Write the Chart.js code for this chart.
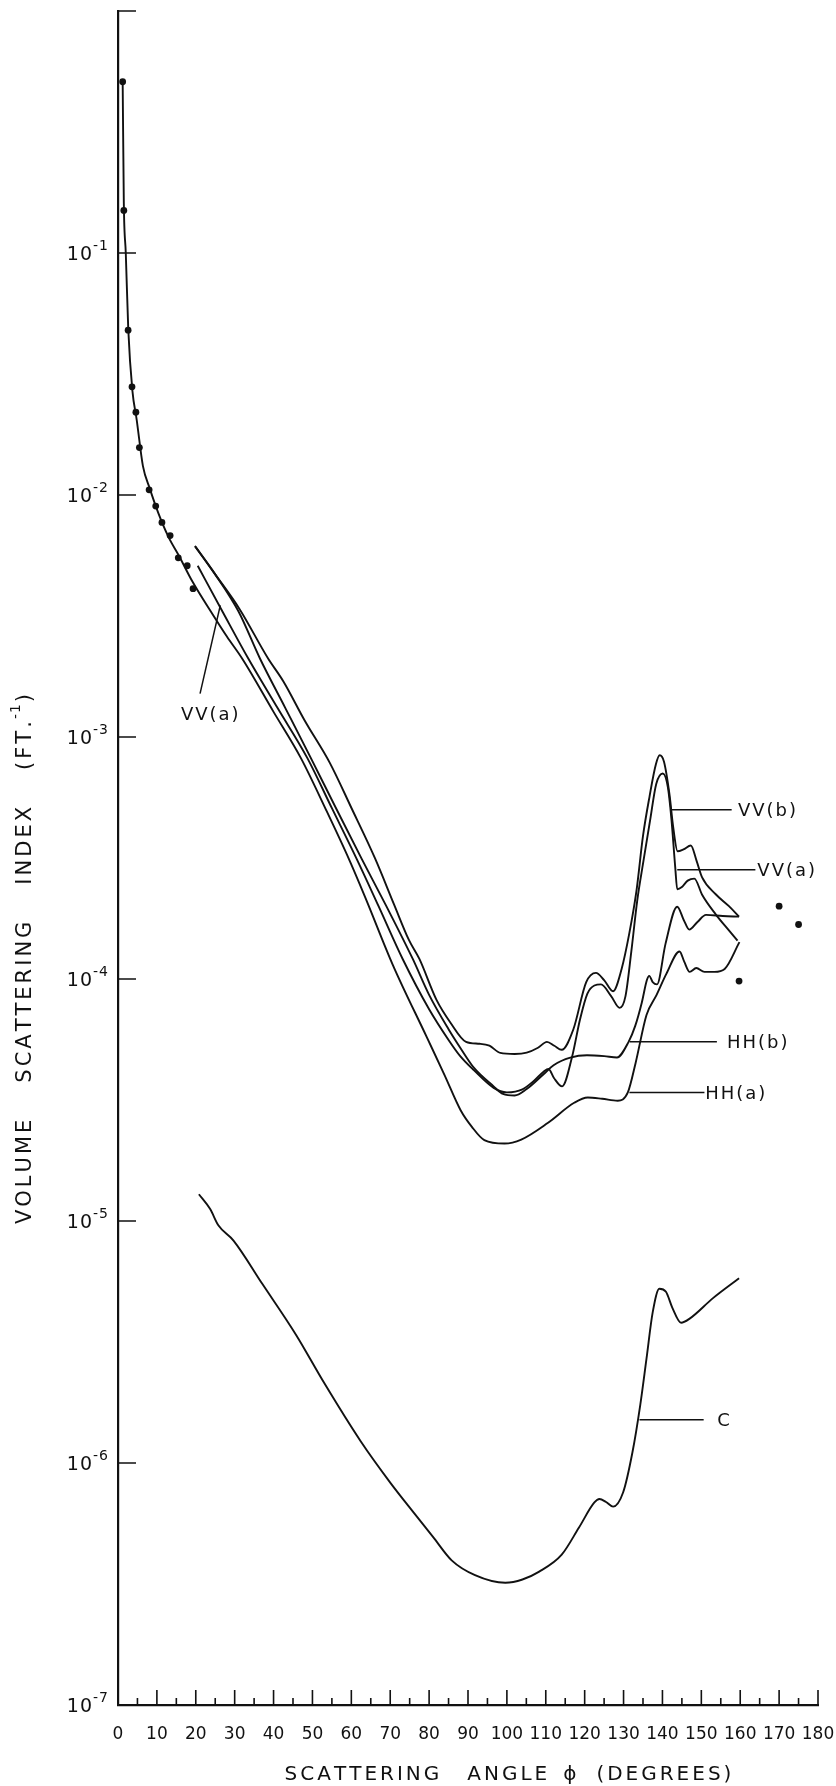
<!DOCTYPE html>
<html>
<head>
<meta charset="utf-8">
<script src="https://cdn.jsdelivr.net/npm/chart.js@4.4.1/dist/chart.umd.min.js"></script>
<style>
  html, body { margin: 0; padding: 0; background: #fff; }
  #wrap { width: 836px; height: 1786px; }
</style>
</head>
<body>
<div id="wrap"><canvas id="chart" width="836" height="1786"></canvas></div>
<script>
// measured points at small angles
const dotAngle = [1.2, 1.5, 2.6, 3.6, 4.6, 5.5, 8.0, 9.7, 11.3, 13.4, 15.5, 17.8, 19.3];
const dotValue = [0.51, 0.15, 0.048, 0.028, 0.022, 0.0157, 0.0105, 0.0090, 0.0077, 0.0068, 0.0055, 0.0051, 0.0041];
// isolated points near back scatter
const farDotAngle = [159.7, 170.0, 175.0];
const farDotValue = [9.8e-5, 2.0e-4, 1.68e-4];

// HH(a), continues the small-angle curve
const hhaAngle = [1.2, 1.5, 2.0, 2.65, 3.7, 4.8, 6.4, 8.2, 10.4, 13.0, 15.7, 19.1, 24.4, 28, 32, 40, 47, 53.5, 59.5, 63.6,
  70.6, 79.4, 84, 88.1, 91, 94.2, 99.4, 103.7, 110.5, 117.3, 120.8, 124.5, 128.5, 131.1, 133.1, 135.9, 138.5, 141, 144.4, 145.6,
  147, 148.7, 150.8, 153.4, 156, 159.8];
const hhaValue = [0.51, 0.16, 0.10, 0.048, 0.027, 0.0205, 0.0132, 0.0106, 0.0084, 0.0067, 0.0056, 0.0044, 0.0032, 0.0026, 0.0021, 0.00127, 0.00082, 0.00050, 0.00031, 0.000217,
  0.000115, 5.75e-5, 4.0e-5, 2.87e-5, 2.45e-5, 2.16e-5, 2.09e-5, 2.17e-5, 2.54e-5, 3.08e-5, 3.24e-5, 3.2e-5, 3.14e-5, 3.4e-5, 4.5e-5, 7.1e-5, 8.6e-5, 1.05e-4, 1.3e-4, 1.18e-4,
  1.07e-4, 1.11e-4, 1.07e-4, 1.07e-4, 1.1e-4, 1.42e-4];

const vvbAngle = [19.8, 25, 31.2, 38.6, 42.5, 48, 54.5, 60, 66.1, 71, 74.8, 77.5, 81.9, 85.5, 89.5, 93, 95.5, 98.3, 102, 105.1,
  108, 110.3, 112.2, 114.1, 117.1, 120.4, 122.9, 125, 127.3, 129.5, 131.5, 133.3, 135.0, 136.7, 138.3, 139.3, 140.4, 141.8, 142.8, 143.9,
  145.4, 147.3, 148.8, 150.2, 153.7, 157.1, 159.7];
const vvbValue = [6.15e-3, 4.7e-3, 3.39e-3, 2.11e-3, 1.70e-3, 1.17e-3, 7.8e-4, 5.1e-4, 3.15e-4, 2.03e-4, 1.45e-4, 1.21e-4, 8.2e-5, 6.6e-5, 5.5e-5, 5.4e-5, 5.3e-5, 4.95e-5, 4.9e-5, 4.96e-5,
  5.2e-5, 5.5e-5, 5.3e-5, 5.1e-5, 6.2e-5, 9.7e-5, 1.06e-4, 9.9e-5, 8.9e-5, 1.1e-4, 1.55e-4, 2.3e-4, 3.9e-4, 5.7e-4, 7.7e-4, 8.4e-4, 7.9e-4, 5.8e-4, 4.2e-4, 3.37e-4,
  3.43e-4, 3.56e-4, 3.07e-4, 2.63e-4, 2.24e-4, 2.0e-4, 1.81e-4];

const vvaAngle = [20.5, 27, 33.5, 41, 48.7, 55, 61.4, 67, 73.2, 80, 85, 88, 91.5, 96.6, 100, 104, 107, 109.5, 110.7, 112.1,
  114.2, 116.8, 118.8, 120.7, 122.5, 124.2, 126.8, 129.0, 130.5, 132, 133.5, 135.1, 136.8, 138.4, 140.1, 141.4, 142.3, 143.3, 143.8, 145.0,
  146.5, 148.2, 150.2, 153.7, 157.2, 159.3];
const vvaValue = [5.1e-3, 3.27e-3, 2.11e-3, 1.32e-3, 8.18e-4, 5.08e-4, 3.13e-4, 2.0e-4, 1.21e-4, 7.5e-5, 5.6e-5, 4.8e-5, 4.2e-5, 3.55e-5, 3.4e-5, 3.5e-5, 3.8e-5, 4.15e-5, 4.25e-5, 3.9e-5,
  3.6e-5, 4.8e-5, 6.8e-5, 8.7e-5, 9.4e-5, 9.5e-5, 8.5e-5, 7.6e-5, 8.5e-5, 1.3e-4, 2.1e-4, 3.06e-4, 4.5e-4, 6.4e-4, 7.07e-4, 6.2e-4, 4.6e-4, 2.88e-4, 2.35e-4, 2.4e-4,
  2.55e-4, 2.6e-4, 2.23e-4, 1.85e-4, 1.58e-4, 1.44e-4];

const hhbAngle = [19.8, 25, 31, 36.5, 43, 49.6, 56, 62.7, 69, 75.8, 80, 85, 88, 91.5, 96.6, 99, 102, 105, 109.5, 112,
  116.3, 120.6, 125, 128.3, 131.3, 133.0, 134.7, 136.0, 136.6, 137.5, 138.6, 140.8, 143.8, 145.5, 146.9, 149, 151.2, 155.5, 159.7];
const hhbValue = [6.15e-3, 4.7e-3, 3.3e-3, 2.11e-3, 1.32e-3, 8.18e-4, 5.1e-4, 3.13e-4, 2.0e-4, 1.21e-4, 8.6e-5, 6.2e-5, 5.2e-5, 4.3e-5, 3.6e-5, 3.35e-5, 3.3e-5, 3.5e-5, 4.05e-5, 4.4e-5,
  4.73e-5, 4.84e-5, 4.8e-5, 4.74e-5, 5.5e-5, 6.4e-5, 8.0e-5, 9.9e-5, 1.03e-4, 9.7e-5, 9.5e-5, 1.4e-4, 1.99e-4, 1.75e-4, 1.6e-4, 1.72e-4, 1.84e-4, 1.82e-4, 1.81e-4];

// curve C
const cAngle = [20.8, 23.7, 25.8, 29.7, 37.1, 45.8, 52.8, 62.4, 70, 76.3, 81, 85.8, 91.8, 99.6, 104, 108.2, 114.1, 118.5, 122.5, 123.8,
  125.5, 127.3, 129.9, 132.3, 134.3, 135.9, 137.5, 139.2, 140.9, 142.5, 144.8, 147.0, 153, 159.7];
const cValue = [1.29e-5, 1.12e-5, 9.6e-6, 8.3e-6, 5.5e-6, 3.38e-6, 2.17e-6, 1.23e-6, 8.3e-7, 6.16e-7, 4.95e-7, 3.96e-7, 3.44e-7, 3.2e-7, 3.3e-7, 3.55e-7, 4.18e-7, 5.4e-7, 6.87e-7, 7.1e-7,
  6.9e-7, 6.6e-7, 7.57e-7, 1.11e-6, 1.74e-6, 2.7e-6, 4.2e-6, 5.25e-6, 5.1e-6, 4.4e-6, 3.8e-6, 3.95e-6, 4.8e-6, 5.8e-6];

// axis ticks
const angleTicks = [0, 5, 10, 15, 20, 25, 30, 35, 40, 45, 50, 55, 60, 65, 70, 75, 80, 85, 90,
  95, 100, 105, 110, 115, 120, 125, 130, 135, 140, 145, 150, 155, 160, 165, 170, 175, 180];
const decadeExponents = [0, -1, -2, -3, -4, -5, -6, -7];

const FONT = '"DejaVu Sans", sans-serif';
const INK = '#111';

const pts = (a, v) => a.map((x, i) => ({ x: x, y: v[i] }));
const curve = (label, a, v) => ({
  label: label,
  data: pts(a, v),
  borderColor: INK,
  borderWidth: 1.9,
  pointRadius: 0,
  fill: false,
  cubicInterpolationMode: 'monotone'
});
const dots = (label, a, v) => ({
  label: label,
  data: pts(a, v),
  showLine: false,
  pointRadius: 3.4,
  pointBackgroundColor: INK,
  pointBorderColor: INK,
  pointBorderWidth: 0
});

// leader lines and names at the right
const callouts = [
  { text: 'VV(b)', from: 142.4, value: 5.0e-4, to: 157.8, textAt: 159.4 },
  { text: 'VV(a)', from: 143.8, value: 2.83e-4, to: 163.9, textAt: 164.4 },
  { text: 'HH(b)', from: 131.6, value: 5.5e-5, to: 154.0, textAt: 156.6 },
  { text: 'HH(a)', from: 131.5, value: 3.4e-5, to: 150.8, textAt: 151.0 },
  { text: 'C', from: 134.1, value: 1.51e-6, to: 150.6, textAt: 154.1 }
];
const leftCallout = { text: 'VV(a)', fromA: 26.3, fromV: 3.5e-3, toA: 21.1, toV: 1.51e-3, textA: 23.6, textV: 1.25e-3 };

function spacedWidth(ctx, text, spacing) {
  let w = 0;
  for (const ch of text) w += ctx.measureText(ch).width + spacing;
  return w - spacing;
}
function spacedText(ctx, text, x, y, spacing) {
  let cx = x;
  for (const ch of text) {
    ctx.fillText(ch, cx, y);
    cx += ctx.measureText(ch).width + spacing;
  }
  return cx - spacing;
}

const whiteBg = {
  id: 'whiteBg',
  beforeDraw(chart) {
    const ctx = chart.ctx;
    ctx.save();
    ctx.fillStyle = '#fff';
    ctx.fillRect(0, 0, chart.width, chart.height);
    ctx.restore();
  }
};

const innerTicks = {
  id: 'innerTicks',
  afterDatasetsDraw(chart) {
    const { ctx, scales: { x, y } } = chart;
    ctx.save();
    ctx.strokeStyle = INK;
    ctx.lineWidth = 1.6;
    ctx.beginPath();
    angleTicks.forEach(a => {
      if (a === 0) return;
      const px = x.getPixelForValue(a);
      const len = a % 10 === 0 ? 15 : 7;
      ctx.moveTo(px, y.bottom);
      ctx.lineTo(px, y.bottom - len);
    });
    decadeExponents.forEach(e => {
      if (e === -7) return;
      const py = y.getPixelForValue(Math.pow(10, e));
      ctx.moveTo(x.left, py);
      ctx.lineTo(x.left + 18, py);
    });
    ctx.stroke();

    // y labels, 10 with a raised exponent
    ctx.fillStyle = INK;
    ctx.textBaseline = 'alphabetic';
    decadeExponents.forEach(e => {
      if (e === 0) return;
      const py = y.getPixelForValue(Math.pow(10, e));
      const right = x.left - 10;
      ctx.font = '14px ' + FONT;
      const sup = '-' + Math.abs(e);
      const supW = spacedWidth(ctx, sup, 1);
      spacedText(ctx, sup, right - supW, py - 3, 1);
      ctx.font = '19px ' + FONT;
      const baseW = spacedWidth(ctx, '10', 1);
      spacedText(ctx, '10', right - supW - 1 - baseW, py + 7, 1);
    });
    ctx.restore();
  }
};

const callout = {
  id: 'callout',
  afterDatasetsDraw(chart) {
    const { ctx, scales: { x, y } } = chart;
    ctx.save();
    ctx.strokeStyle = INK;
    ctx.fillStyle = INK;
    ctx.lineWidth = 1.5;
    ctx.font = '18px ' + FONT;
    ctx.textBaseline = 'alphabetic';
    callouts.forEach(c => {
      const py = y.getPixelForValue(c.value);
      ctx.beginPath();
      ctx.moveTo(x.getPixelForValue(c.from), py);
      ctx.lineTo(x.getPixelForValue(c.to), py);
      ctx.stroke();
      spacedText(ctx, c.text, x.getPixelForValue(c.textAt), py + 6.5, 2);
    });
    const l = leftCallout;
    ctx.beginPath();
    ctx.moveTo(x.getPixelForValue(l.fromA), y.getPixelForValue(l.fromV));
    ctx.lineTo(x.getPixelForValue(l.toA), y.getPixelForValue(l.toV));
    ctx.stroke();
    const w = spacedWidth(ctx, l.text, 2);
    spacedText(ctx, l.text, x.getPixelForValue(l.textA) - w / 2, y.getPixelForValue(l.textV) + 6.5, 2);
    ctx.restore();
  }
};

const axisTitles = {
  id: 'axisTitles',
  afterDraw(chart) {
    const ctx = chart.ctx;
    ctx.save();
    ctx.fillStyle = INK;
    ctx.textBaseline = 'alphabetic';
    ctx.font = '20px ' + FONT;

    // x title
    const xWords = ['SCATTERING', 'ANGLE', '\u03d5', '(DEGREES)'];
    const xGaps = [28, 16, 20];
    let total = 0;
    xWords.forEach((w, i) => { total += spacedWidth(ctx, w, 3) + (i < xGaps.length ? xGaps[i] : 0); });
    let cx = 508 - total / 2;
    xWords.forEach((w, i) => {
      cx = spacedText(ctx, w, cx, 1780, 3) + (i < xGaps.length ? xGaps[i] : 0);
    });

    // y title, rotated, reads bottom to top
    ctx.translate(23, 959);
    ctx.rotate(-Math.PI / 2);
    const yWords = ['VOLUME', 'SCATTERING', 'INDEX'];
    const gap = 37;
    ctx.font = '21px ' + FONT;
    let tw = 0;
    yWords.forEach(w => { tw += spacedWidth(ctx, w, 3) + gap; });
    const fW = spacedWidth(ctx, '(FT.', 3);
    ctx.font = '14px ' + FONT;
    const sW = spacedWidth(ctx, '-1', 1);
    ctx.font = '21px ' + FONT;
    const pW = ctx.measureText(')').width;
    tw += fW + 2 + sW + 2 + pW;
    let ty = -tw / 2;
    yWords.forEach(w => { ty = spacedText(ctx, w, ty, 7.6, 3) + gap; });
    ty = spacedText(ctx, '(FT.', ty, 7.6, 3) + 2;
    ctx.font = '14px ' + FONT;
    ty = spacedText(ctx, '-1', ty, -3, 1) + 2;
    ctx.font = '21px ' + FONT;
    ctx.fillText(')', ty, 7.6);
    ctx.restore();
  }
};

const ctxMain = document.getElementById('chart').getContext('2d');
const chart = new Chart(ctxMain, {
  type: 'line',
  data: {
    datasets: [
      curve('HH(a)', hhaAngle, hhaValue),
      curve('HH(b)', hhbAngle, hhbValue),
      curve('VV(a)', vvaAngle, vvaValue),
      curve('VV(b)', vvbAngle, vvbValue),
      curve('C', cAngle, cValue),
      dots('measured', dotAngle, dotValue),
      dots('measured, back', farDotAngle, farDotValue)
    ]
  },
  options: {
    responsive: false,
    animation: false,
    layout: { padding: { top: 11, right: 18, left: 0, bottom: 0 } },
    plugins: {
      legend: { display: false },
      tooltip: { enabled: false }
    },
    scales: {
      x: {
        type: 'linear',
        min: 0,
        max: 180,
        afterFit(scale) {
          scale.height = 81;
          scale.paddingLeft = 0;
          scale.paddingRight = 18;
        },
        afterBuildTicks(scale) {
          scale.ticks = angleTicks.filter(a => a % 10 === 0).map(a => ({ value: a }));
        },
        grid: { display: false, drawTicks: false },
        border: { display: true, color: INK, width: 2.2 },
        ticks: {
          autoSkip: false,
          maxRotation: 0,
          color: INK,
          padding: 19,
          font: { family: FONT, size: 17 },
          callback: v => String(v)
        }
      },
      y: {
        type: 'logarithmic',
        min: 1e-7,
        max: 1,
        afterFit(scale) { scale.width = 118; },
        grid: { display: false, drawTicks: false },
        border: { display: true, color: INK, width: 2.2 },
        ticks: { display: false }
      }
    }
  },
  plugins: [whiteBg, innerTicks, callout, axisTitles]
});
</script>
</body>
</html>
